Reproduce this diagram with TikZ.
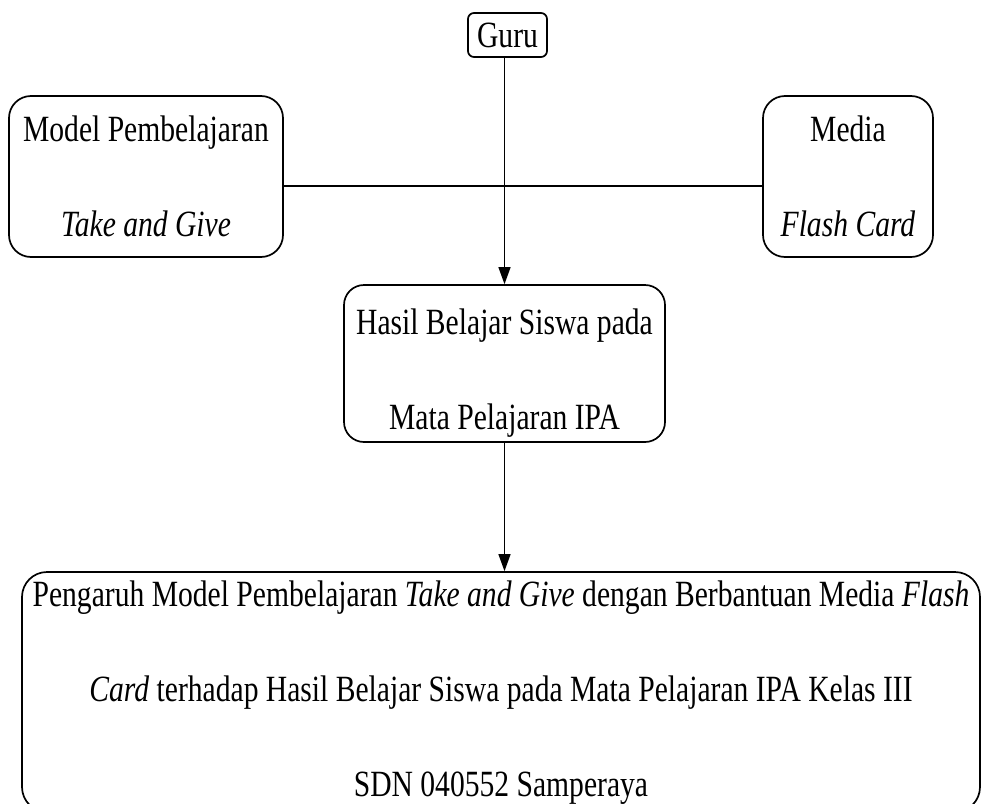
\documentclass[tikz,border=0pt]{standalone}
\usepackage{fontspec}
\setmainfont[FakeStretch=0.8]{Liberation Serif}
\usetikzlibrary{arrows.meta}
\newcommand{\downby}[1]{\rule{0pt}{\dimexpr 27pt+#1\relax}}
\begin{document}
\begin{tikzpicture}[x=1pt,y=-1pt,
  box/.style={draw, line width=1.7pt, rounded corners=22pt, align=center, inner sep=0pt,
    font=\fontsize{37}{95}\selectfont},
  conn/.style={line width=1.3pt},
  arr/.style={conn, -{Triangle[length=17pt,width=12pt]}}]
\useasboundingbox (0,0) rectangle (984,803);
\node[box, rounded corners=6pt, minimum width=79pt, minimum height=44pt, font=\fontsize{37}{44}\selectfont] (guru) at (507.5,35) {Guru};
\node[box, minimum width=274pt, minimum height=161pt] (model) at (146,176.5) {Model Pembelajaran\\\textit{Take and Give}};
\node[box, minimum width=170pt, minimum height=161pt] (media) at (848,176.5) {Media\\\textit{Flash Card}};
\node[box, rounded corners=20pt, minimum width=321pt, minimum height=157pt, inner ysep=-10pt] (hasil) at (504.5,363.5) {\downby{18pt}Hasil Belajar Siswa pada\\Mata Pelajaran IPA};
\node[box, rounded corners=25pt, minimum width=958pt, minimum height=240pt, inner ysep=-20pt] (pengaruh) at (501,692) {\downby{-1pt}Pengaruh Model Pembelajaran \textit{Take and Give} dengan Berbantuan Media \textit{Flash}\\\textit{Card} terhadap Hasil Belajar Siswa pada Mata Pelajaran IPA Kelas III\\SDN 040552 Samperaya};
\draw[conn] ([yshift=-9.5pt]model.east) -- ([yshift=-9.5pt]media.west);
\draw[arr] (guru.south -| hasil.north) -- (hasil.north);
\draw[arr] (hasil.south) -- (hasil.south |- pengaruh.north);
\end{tikzpicture}
\end{document}
